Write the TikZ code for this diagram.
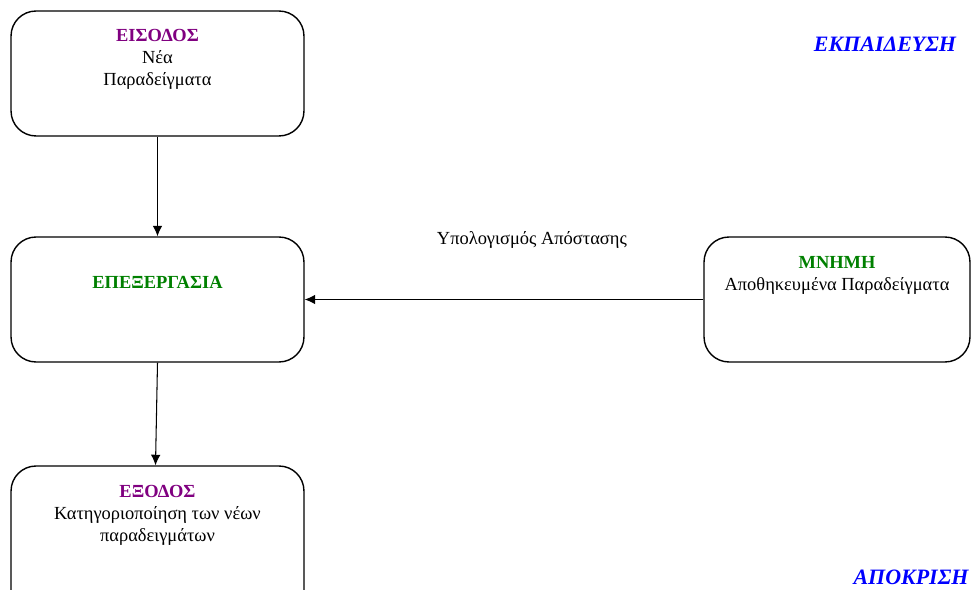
\documentclass[tikz,border=0pt]{standalone}
\usepackage{fontspec}
\setmainfont{Liberation Serif}
\usetikzlibrary{arrows.meta,positioning}
\definecolor{titlepurple}{RGB}{128,0,128}
\definecolor{titlegreen}{RGB}{0,128,0}
\definecolor{stageblue}{RGB}{0,0,255}

\tikzset{
  block/.style={draw, line width=0.8pt, rounded corners=0.5cm, minimum width=5.86cm, minimum height=2.5cm, inner sep=0pt},
  blocktext/.style={align=center, font=\fontsize{10.5}{12.5}\selectfont, inner sep=0pt, anchor=north},
  flow/.style={-{Latex[length=6pt,width=5.5pt]}, line width=0.6pt},
  stage/.style={font=\fontsize{12.5}{14}\selectfont\bfseries\itshape, text=stageblue}
}

\begin{document}
\begin{tikzpicture}[x=0.02cm, y=-0.02cm]
      \useasboundingbox (0,0) rectangle (976,590);
      \clip (0,0) rectangle (976,590);
      \node[block] (in) at (157.5,73.5) {};
      \node[block] (proc) at (157.5,299.5) {};
      \node[block, minimum height=3cm] (out) at (157.5,541) {};
      \node[block, minimum width=5.32cm] (mem) at (837,299.5) {};

      \node[blocktext, below=0.37cm of in.north] {\textbf{\textcolor{titlepurple}{ΕΙΣΟΔΟΣ}}\\Νέα\\Παραδείγματα};
      \node[blocktext, below=0.8cm of proc.north] {\textbf{\textcolor{titlegreen}{ΕΠΕΞΕΡΓΑΣΙΑ}}};
      \node[blocktext, below=0.4cm of out.north] {\textbf{\textcolor{titlepurple}{ΕΞΟΔΟΣ}}\\Κατηγοριοποίηση των νέων\\παραδειγμάτων};
      \node[blocktext, below=0.39cm of mem.north] {\textbf{\textcolor{titlegreen}{ΜΝΗΜΗ}}\\Αποθηκευμένα Παραδείγματα};

      \node[stage] (train) at (885,44) {ΕΚΠΑΙΔΕΥΣΗ};
      \node[stage] (resp) at (911,577) {ΑΠΟΚΡΙΣΗ};

      \draw[flow] (in.south) -- (proc.north);
      \draw[flow] (proc.south) -- ([xshift=-0.04cm]out.north);
      \draw[flow] (mem.west) -- node[pos=0.43, yshift=1.2cm, font=\fontsize{10.5}{12}\selectfont] {Υπολογισμός Απόστασης} (proc.east);
    \end{tikzpicture}
\end{document}
